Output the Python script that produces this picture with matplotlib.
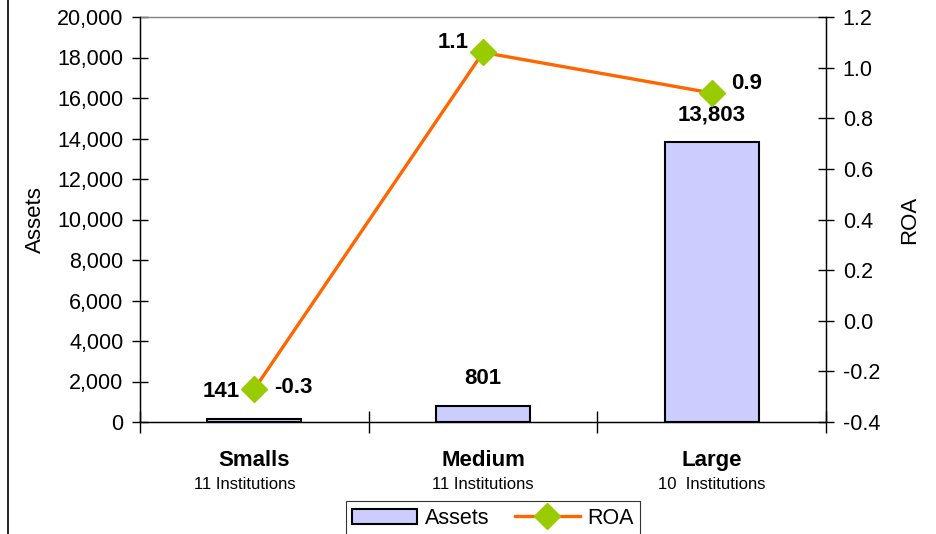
import matplotlib
matplotlib.use("Agg")
import matplotlib.pyplot as plt
from matplotlib.lines import Line2D
from matplotlib.ticker import FuncFormatter
import numpy as np

plt.rcParams['font.family'] = ['Liberation Sans', 'DejaVu Sans']

categories = ["Smalls", "Medium", "Large"]
subtitles = ["11 Institutions", "11 Institutions", "10  Institutions"]
assets = [141, 801, 13803]
roa = [-0.27, 1.06, 0.90]

fig = plt.figure(figsize=(9.37, 5.34), dpi=100)
ax = fig.add_axes([140 / 937, 1 - 422 / 534, 686 / 937, 405 / 534])
ax2 = ax.twinx()

x = np.arange(len(categories))
bars = ax.bar(x, assets, width=0.41, color="#CCCCFF", edgecolor="black",
              linewidth=1.5, label="Assets", zorder=2)
ax.set_xlim(-0.5, 2.5)
ax.set_ylim(0, 20000)
ax.set_yticks(np.arange(0, 20001, 2000))
ax.yaxis.set_major_formatter(FuncFormatter(lambda v, p: f"{int(v):,}"))
ax.set_xticks([-0.5, 0.5, 1.5, 2.5])
ax.set_xticklabels([])
ax.tick_params(axis="y", direction="inout", length=12, width=1, labelsize=15.5, pad=6)
ax.tick_params(axis="x", direction="inout", length=16, width=1)
ax.set_ylabel("Assets", fontsize=16, labelpad=8)
for s in ax.spines.values():
    s.set_linewidth(1)
ax.spines["top"].set_color("#808080")

line, = ax2.plot(x, roa, color="#FF6600", linewidth=2.4, marker="D",
                 markersize=13, markerfacecolor="#99CC00",
                 markeredgecolor="#99CC00", label="ROA", zorder=3)
ax2.set_ylim(-0.4, 1.2)
ax2.set_yticks(np.arange(-0.4, 1.21, 0.2))
ax2.yaxis.set_major_formatter(FuncFormatter(lambda v, p: f"{v:.1f}"))
ax2.tick_params(axis="y", direction="inout", length=12, width=1, labelsize=15.5, pad=6)
ax2.set_ylabel("ROA", fontsize=16, labelpad=14)
ax2.spines["top"].set_visible(False)

# bar value labels
bar_offsets = [(-24, 12), (0, 12), (0, 12)]
for xi, v, (dx, dy) in zip(x, assets, bar_offsets):
    ax.annotate(f"{v:,}", (xi, v), xytext=(dx, dy), textcoords="offset points",
                ha="center", va="bottom", fontsize=16, fontweight="bold")

# ROA labels
roa_offsets = [(14, 1), (-10, 7), (14, 7)]
roa_ha = ["left", "right", "left"]
for xi, v, (dx, dy), ha in zip(x, roa, roa_offsets, roa_ha):
    ax2.annotate(f"{v:.1f}", (xi, v), xytext=(dx, dy), textcoords="offset points",
                 ha=ha, va="center", fontsize=16, fontweight="bold")

# category labels
trans = ax.get_xaxis_transform()
sub_shift = [-0.04, 0.0, 0.0]
for xi, c, s, ds in zip(x, categories, subtitles, sub_shift):
    ax.text(xi, -0.095, c, transform=trans, ha="center", va="center",
            fontsize=16, fontweight="bold")
    ax.text(xi + ds, -0.155, s, transform=trans, ha="center", va="center", fontsize=12)

leg = fig.legend([bars, line], ["Assets", "ROA"], loc="lower center",
                 bbox_to_anchor=(493 / 937, -12 / 534), ncol=2, fontsize=15.5,
                 frameon=True, fancybox=False, edgecolor="black",
                 handlelength=3, columnspacing=1.2, handletextpad=0.35,
                 borderpad=0.3, borderaxespad=0.5)
leg.get_frame().set_linewidth(0.8)

fig.add_artist(Line2D([8 / 937, 8 / 937], [0, 1], color="black", linewidth=1.2,
                      transform=fig.transFigure))

fig.savefig("out.png", dpi=100)
